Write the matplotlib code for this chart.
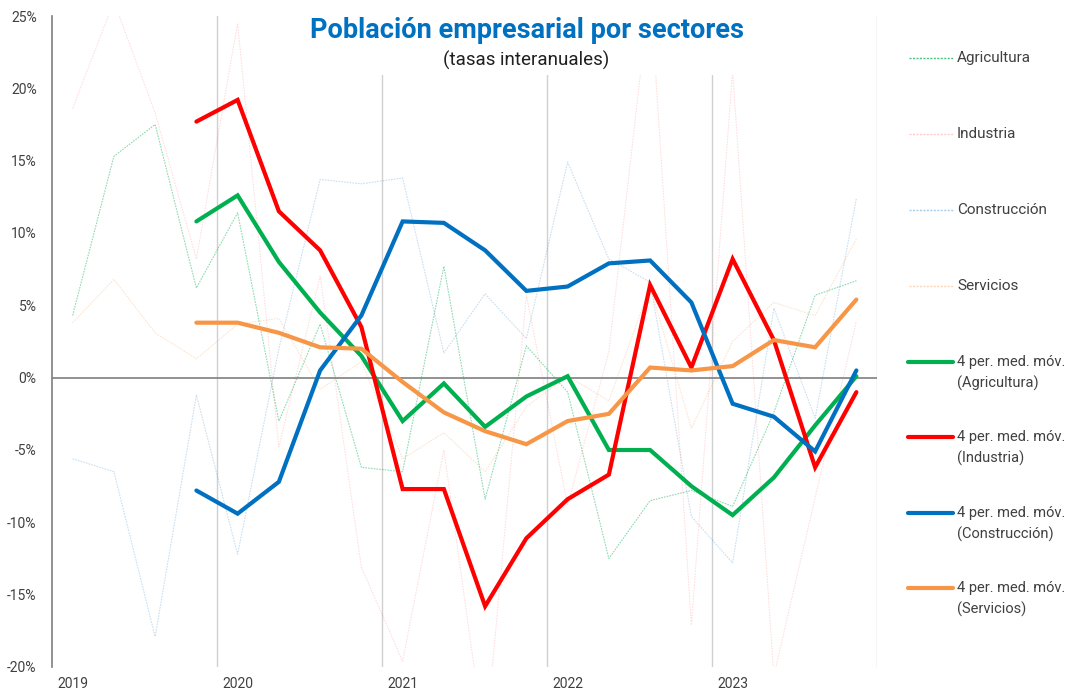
import numpy as np
import matplotlib.pyplot as plt
from matplotlib.lines import Line2D
from matplotlib.patches import Rectangle

# ==========================================
# DATOS (tasas interanuales, %)
# ==========================================
trimestres = np.arange(20)          # 2019T1 ... 2023T4
años = ["2019", "2020", "2021", "2022", "2023"]
pos_años = [0, 4, 8, 12, 16]

agricultura = [4.3, 15.3, 17.5, 6.2, 11.4, -3.0, 3.7, -6.2, -6.5, 7.7,
               -8.4, 2.2, -1.0, -12.5, -8.5, -7.8, -8.9, -2.4, 5.7, 6.7]
industria = [18.6, 26.0, 18.3, 8.2, 24.5, -4.8, 7.0, -13.1, -19.6, -5.0,
             -25.5, 5.7, -8.8, 1.8, 26.9, -17.1, 21.2, -20.6, -8.3, 3.9]
construccion = [-5.6, -6.5, -17.9, -1.2, -12.2, 2.0, 13.7, 13.4, 13.8, 1.7,
                5.8, 2.7, 14.9, 8.2, 6.6, -9.6, -12.8, 4.8, -2.8, 12.4]
servicios = [3.8, 6.8, 3.1, 1.3, 3.7, 4.1, -0.8, 1.1, -5.6, -3.8,
             -6.5, -2.0, 0.1, -1.6, 6.3, -3.5, 2.5, 5.2, 4.3, 9.6]

# medias móviles de 4 periodos (desde 2019T4)
mm_agricultura = [10.8, 12.6, 8.0, 4.5, 1.5, -3.0, -0.4, -3.4, -1.3, 0.1,
                  -5.0, -5.0, -7.5, -9.5, -6.9, -3.3, 0.1]
mm_industria = [17.7, 19.2, 11.5, 8.8, 3.5, -7.7, -7.7, -15.8, -11.1, -8.4,
                -6.7, 6.4, 0.7, 8.2, 2.6, -6.2, -1.0]
mm_construccion = [-7.8, -9.4, -7.2, 0.5, 4.3, 10.8, 10.7, 8.8, 6.0, 6.3,
                   7.9, 8.1, 5.2, -1.8, -2.7, -5.1, 0.5]
mm_servicios = [3.8, 3.8, 3.1, 2.1, 2.0, -0.3, -2.4, -3.7, -4.6, -3.0,
                -2.5, 0.7, 0.5, 0.8, 2.6, 2.1, 5.4]

sectores = ["Agricultura", "Industria", "Construcción", "Servicios"]
colores = ["#00B050", "#FF0000", "#0070C0", "#F79646"]
alfas = [0.45, 0.13, 0.22, 0.25]
series = [agricultura, industria, construccion, servicios]
medias = [mm_agricultura, mm_industria, mm_construccion, mm_servicios]

plt.rcParams['font.family'] = ['Roboto', 'DejaVu Sans']

# ==========================================
# FIGURA Y EJES
# ==========================================
W, H = 1071, 693
fig = plt.figure(figsize=(W / 100, H / 100), dpi=100)
ax = fig.add_axes([52 / W, 1 - 667 / H, 825 / W, 651 / H])

for serie, color, alfa in zip(series, colores, alfas):
    ax.plot(trimestres, serie, color=color, alpha=alfa, lw=0.8,
            linestyle=(0, (1.5, 1)), zorder=2)

ax.axhline(0, color="#7f7f7f", lw=1.2, zorder=2.5)

for media, color in zip(medias, colores):
    ax.plot(trimestres[3:], media, color=color, lw=3, zorder=3,
            solid_capstyle='round', solid_joinstyle='miter')

for xv in [3.5, 7.5, 11.5, 15.5, 19.5]:
    ax.axvline(xv, color="#d0d0d0", lw=1, zorder=1)

ax.set_xlim(-0.5, 19.5)
ax.set_ylim(-20, 25)
ax.set_xticks(pos_años)
ax.set_xticklabels(años)
ax.set_yticks(np.arange(-20, 26, 5))
ax.set_yticklabels([f"{v}%" for v in range(-20, 26, 5)])
ax.tick_params(axis='both', length=0, labelsize=10, colors="#404040")
ax.tick_params(axis='y', pad=11)
ax.tick_params(axis='x', pad=7)
for lado in ["top", "right", "bottom"]:
    ax.spines[lado].set_visible(False)
ax.spines["left"].set_color("#7f7f7f")
ax.spines["left"].set_linewidth(1.2)

# ==========================================
# TÍTULO
# ==========================================
fig.add_artist(Rectangle((300 / W, 1 - 75 / H), 455 / W, 59 / H,
                         transform=fig.transFigure, facecolor="white",
                         edgecolor="none", zorder=1))
fig.text(527 / W, 1 - 31 / H, "Población empresarial por sectores",
         ha='center', va='center', fontsize=19.5, fontweight='bold',
         color="#0070C0", zorder=4)
fig.text(526 / W, 1 - 60 / H, "(tasas interanuales)", ha='center',
         va='center', fontsize=13.5, color="#202020", zorder=4)

# ==========================================
# LEYENDA
# ==========================================
y_leg = [58, 134, 210, 286]
for nombre, color, alfa, y in zip(sectores, colores, alfas, y_leg):
    fig.add_artist(Line2D([909 / W, 953 / W], [1 - y / H] * 2,
                          transform=fig.transFigure, color=color,
                          alpha=min(1, alfa * 1.6), lw=1,
                          linestyle=(0, (1.5, 1))))
    fig.text(957 / W, 1 - y / H, nombre, ha='left', va='center',
             fontsize=11, color="#404040")

y_mm = [362, 437, 513, 588]
for nombre, color, y in zip(sectores, colores, y_mm):
    fig.add_artist(Line2D([908 / W, 953 / W], [1 - y / H] * 2,
                          transform=fig.transFigure, color=color, lw=3,
                          solid_capstyle='round'))
    fig.text(957 / W, 1 - (y + 11) / H, f"4 per. med. móv.\n({nombre})",
             ha='left', va='center', fontsize=10.5, color="#404040",
             linespacing=1.5)

fig.savefig("out.png", dpi=100)
